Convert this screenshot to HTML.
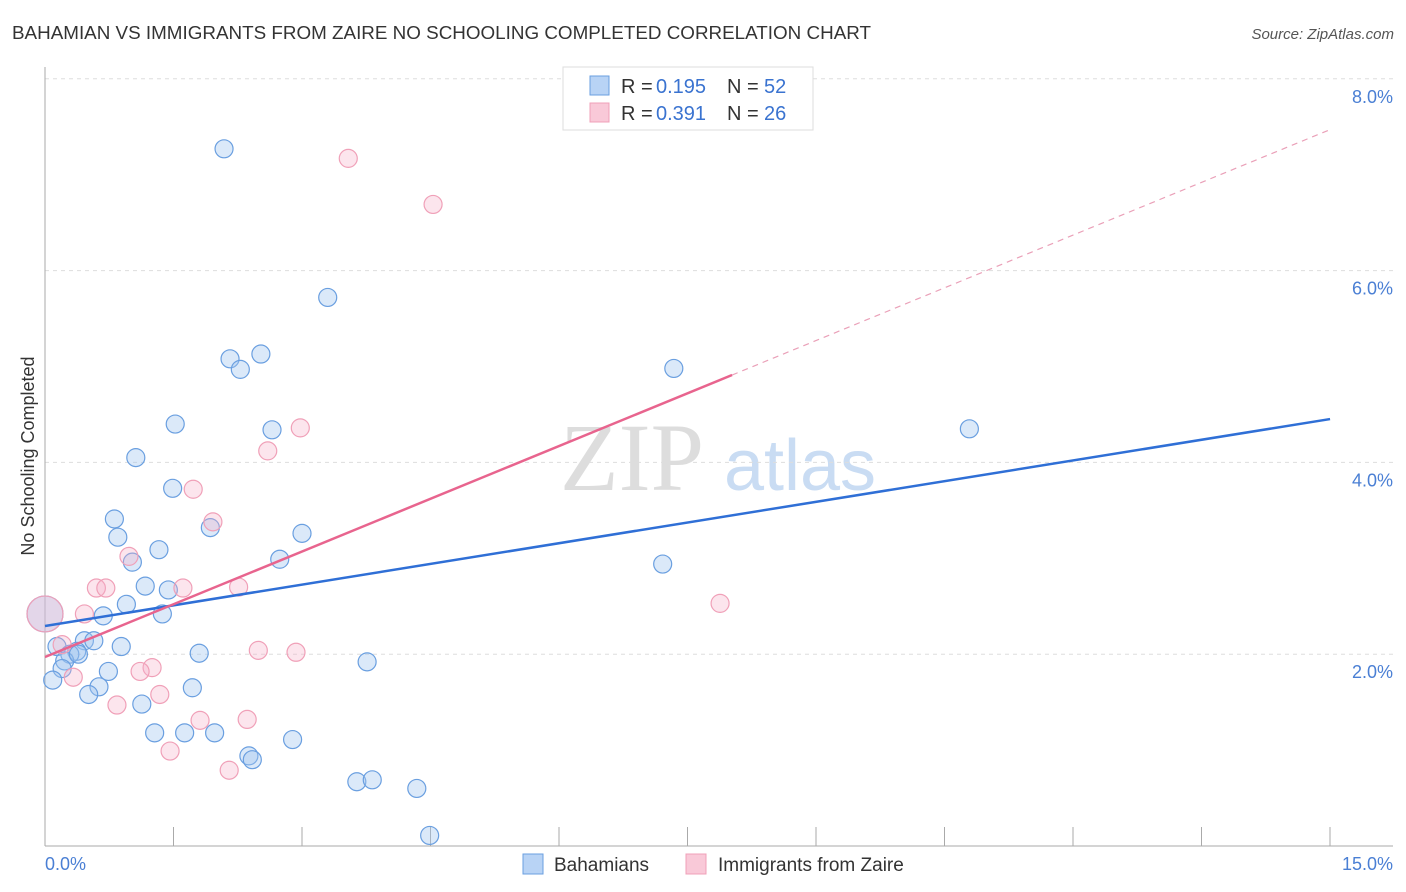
<!DOCTYPE html>
<html><head><meta charset="utf-8"><style>
body{margin:0;background:#fff;font-family:"Liberation Sans",sans-serif;}
svg{display:block}
</style></head><body>
<svg id="chart" width="1406" height="892" xmlns="http://www.w3.org/2000/svg">
<text x="12" y="39" font-size="18" fill="#333" textLength="859" lengthAdjust="spacingAndGlyphs">BAHAMIAN VS IMMIGRANTS FROM ZAIRE NO SCHOOLING COMPLETED CORRELATION CHART</text>
<text x="1394" y="39" font-size="15" fill="#555" font-style="italic" text-anchor="end">Source: ZipAtlas.com</text>
<g><text x="632" y="490" font-size="96" fill="#ddd" font-family="Liberation Serif,serif" text-anchor="middle">ZIP</text><text x="800" y="490" font-size="72" fill="#c9dcf3" text-anchor="middle">atlas</text></g>
<g id="grid"></g>
<g id="marks"></g>
<text transform="translate(34,456) rotate(-90)" font-size="18" fill="#333" text-anchor="middle">No Schooling Completed</text>
<text x="45" y="870" font-size="18" fill="#4a7fd4">0.0%</text>
<text x="1393" y="870" font-size="18" fill="#4a7fd4" text-anchor="end">15.0%</text>
<g>
<rect x="563" y="67" width="250" height="63" fill="#fff" stroke="#ddd"/>
<rect x="590" y="76" width="19" height="19" fill="#b8d3f5" stroke="#6a9fe0"/>
<rect x="590" y="103" width="19" height="19" fill="#f9c9d8" stroke="#f0a0b8"/>
<text x="621" y="93" font-size="20" fill="#333">R =</text><text x="656" y="93" font-size="20" fill="#3a73d0">0.195</text>
<text x="727" y="93" font-size="20" fill="#333">N =</text><text x="764" y="93" font-size="20" fill="#3a73d0">52</text>
<text x="621" y="120" font-size="20" fill="#333">R =</text><text x="656" y="120" font-size="20" fill="#3a73d0">0.391</text>
<text x="727" y="120" font-size="20" fill="#333">N =</text><text x="764" y="120" font-size="20" fill="#3a73d0">26</text>
</g>
<g>
<rect x="523" y="854" width="20" height="20" fill="#b8d3f5" stroke="#6a9fe0"/>
<text x="554" y="871" font-size="19" fill="#333">Bahamians</text>
<rect x="686" y="854" width="20" height="20" fill="#f9c9d8" stroke="#f0a0b8"/>
<text x="718" y="871" font-size="19" fill="#333">Immigrants from Zaire</text>
</g>
</svg>
<script>
const yTicks=[2,4,6,8];
const yTickLabels=["2.0%","4.0%","6.0%","8.0%"];
const blueX=[2.09,3.30,2.16,2.52,2.28,7.34,10.79,1.52,2.65,1.06,1.49,0.81,1.93,0.85,3.00,1.33,1.02,2.74,7.21,1.17,1.44,0.95,0.68,1.37,0,0.46,0.57,0.89,0.14,0.37,0.29,0.23,1.80,3.76,0.74,0.20,0.09,0.63,1.72,0.51,1.13,1.28,1.63,1.98,2.89,2.38,2.42,3.64,3.82,4.34,4.49,0.39];
const blueY=[7.27,5.72,5.08,5.13,4.97,4.98,4.35,4.40,4.34,4.05,3.73,3.41,3.32,3.22,3.26,3.09,2.96,2.99,2.94,2.71,2.67,2.52,2.40,2.42,2.42,2.14,2.14,2.08,2.08,2.03,2.00,1.93,2.01,1.92,1.82,1.85,1.73,1.66,1.65,1.58,1.48,1.18,1.18,1.18,1.11,0.94,0.90,0.67,0.69,0.60,0.11,2.00];
const pinkX=[3.54,4.53,2.98,2.60,1.73,1.96,0.98,0.60,0.71,1.61,2.26,0.46,0,0.20,7.88,2.49,2.93,1.25,1.11,0.33,1.34,0.84,1.81,2.36,1.46,2.15];
const pinkY=[7.17,6.69,4.36,4.12,3.72,3.38,3.02,2.69,2.69,2.69,2.70,2.42,2.42,2.10,2.53,2.04,2.02,1.86,1.82,1.76,1.58,1.47,1.31,1.32,0.99,0.79];
const blueLine=[2.294,4.452];
const pinkLine=[1.971,7.47];
const pinkSolidEnd=8.02;
const NS="http://www.w3.org/2000/svg";
const sx=v=>45+v*85.67, sy=v=>846-v*95.9;
function mk(t,a,p){const e=document.createElementNS(NS,t);for(const k in a)e.setAttribute(k,a[k]);p.appendChild(e);return e;}
const grid=document.getElementById('grid'),marks=document.getElementById('marks');
yTicks.forEach((t,i)=>{
 const l=mk('line',{x1:45,x2:1393,y1:sy(t),y2:sy(t),stroke:'#ddd','stroke-dasharray':'4,4'},grid);
 
 
 const tx=mk('text',{x:1393,y:sy(t)+24,'font-size':18,fill:'#4a7fd4','text-anchor':'end'},grid);
 tx.textContent=yTickLabels[i];
 
 
});
mk('line',{x1:45,x2:45,y1:67,y2:846,stroke:'#aaa'},grid);
mk('line',{x1:45,x2:1393,y1:846,y2:846,stroke:'#aaa'},grid);
for(let k=0;k<=10;k++){const t=mk('line',{x1:45+k*128.5,x2:45+k*128.5,y1:827,y2:846,stroke:'#aaa'},grid);}
function pts(X,Y,fill,stroke,name){X.forEach((x,i)=>{const big=(x===0);
 const c=mk('circle',{cx:sx(x),cy:sy(Y[i]),r:big?18:9,fill:fill,stroke:stroke,'stroke-width':1.2},marks);
 
 });}
pts(blueX,blueY,'rgba(160,196,240,0.38)','#6a9fe0','bahamian-point');
pts(pinkX,pinkY,'rgba(245,175,198,0.32)','#f0a0b8','zaire-point');
const bl=mk('line',{x1:sx(0),y1:sy(blueLine[0]),x2:sx(15),y2:sy(blueLine[1]),stroke:'#2f6fd6','stroke-width':2.5},marks);


const ps=(pinkLine[1]-pinkLine[0])/15;
const pl=mk('line',{x1:sx(0),y1:sy(pinkLine[0]),x2:sx(pinkSolidEnd),y2:sy(pinkLine[0]+ps*pinkSolidEnd),stroke:'#e8648e','stroke-width':2.5},marks);


const pd=mk('line',{x1:sx(pinkSolidEnd),y1:sy(pinkLine[0]+ps*pinkSolidEnd),x2:sx(15),y2:sy(pinkLine[1]),stroke:'#eaa0b8','stroke-width':1.2,'stroke-dasharray':'6,5'},marks);


</script>
</body></html>
